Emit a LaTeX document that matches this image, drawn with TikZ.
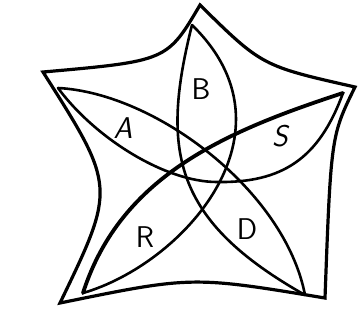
\documentclass[tikz,border=0pt]{standalone}
\usepackage{tikz}
\usetikzlibrary{positioning}

\begin{document}
\begin{tikzpicture}[
    x=1pt, y=-1pt,
    frame/.style={draw=black, line width=3.2pt, line join=miter},
    petal/.style={draw=black, line width=2.6pt, line cap=round},
    heavy/.style={petal, line width=3.8pt},
    letter/.style={font=\sffamily\fontsize{30}{30}\selectfont, inner sep=0pt}
]
\useasboundingbox (0,0) rectangle (359,325);

% Corners of the outer frame
\coordinate (cTop) at (200,5);
\coordinate (cLeft) at (43,72);
\coordinate (cRight) at (355,87);
\coordinate (cBR) at (325,298);
\coordinate (cBL) at (60,303);

% Tips of the five petals
\coordinate (tipB) at (192,25);
\coordinate (tipS) at (343,93);
\coordinate (tipD) at (305,295);
\coordinate (tipR) at (83,293);
\coordinate (tipA) at (58,88);
\coordinate (lowSA) at (217,182);

% Outer frame, hollow sides
\draw[frame] (cLeft) .. controls (167,61) .. (cTop)
    .. controls (262,66) .. (cRight)
    .. controls (331,136) .. (cBR)
    .. controls (192,276) .. (cBL)
    .. controls (116,187) .. cycle;

% Petal edges: each curve runs from one tip to another
\draw[petal] (tipB) .. controls (160,152) and (174,221) .. (tipD);
\draw[petal] (tipB) .. controls (302,132) and (183,264) .. (tipR);
\draw[heavy] (tipS) .. controls (230,130) and (121,174) .. (tipR);
\draw[petal] (tipS) .. controls (319,159) and (282,183) .. (lowSA)
    .. controls (165,182) and (95,138) .. (tipA);
\draw[petal] (tipA) .. controls (156,93) and (285,191) .. (tipD);

% Letters in the petals
\node[letter] (lblB) at (201,89) {B};
\node[letter, font=\sffamily\slshape\fontsize{30}{30}\selectfont] (lblA) at (123,128) {A};
\node[letter, font=\sffamily\slshape\fontsize{30}{30}\selectfont] (lblS) at (280,136) {S};
\node[letter] (lblD) at (247,229) {D};
\node[letter] (lblR) at (145,237) {R};

\end{tikzpicture}
\end{document}
